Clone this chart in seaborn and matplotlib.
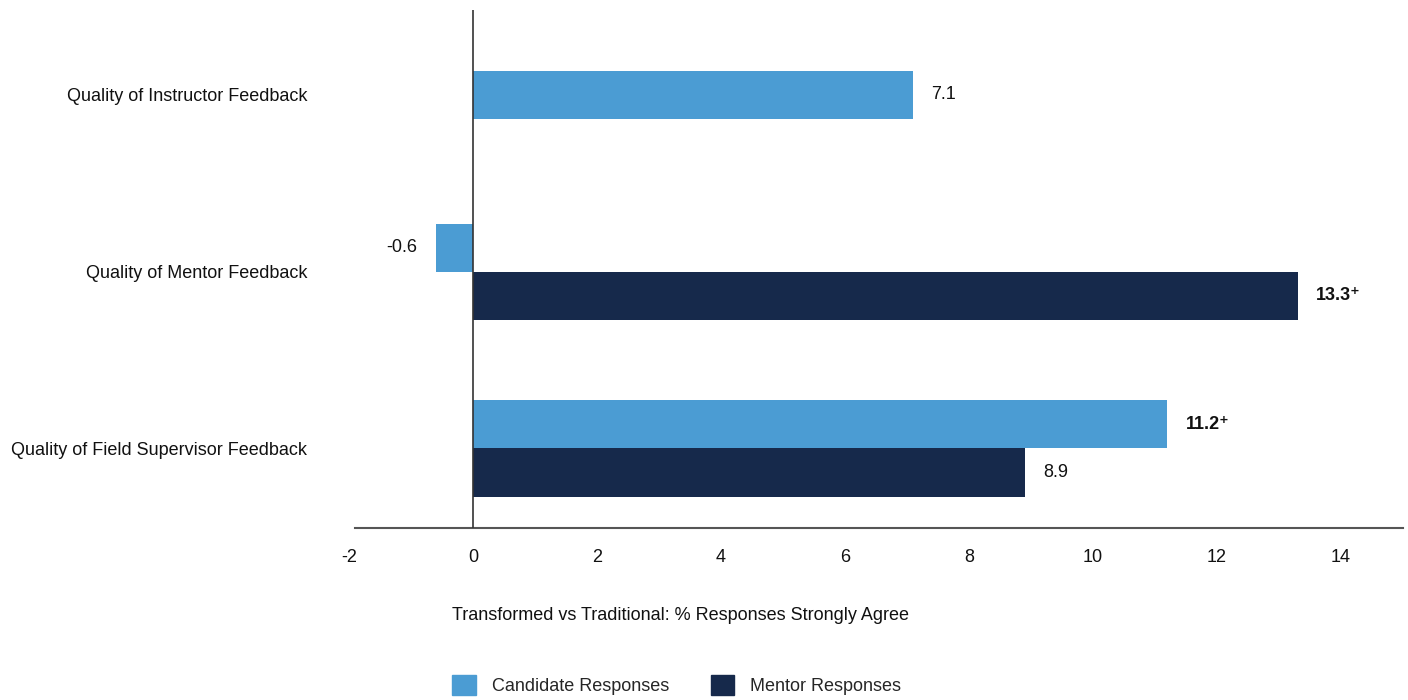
import matplotlib
matplotlib.use("Agg")
import matplotlib.pyplot as plt
import matplotlib.patches as mpatches
import seaborn as sns
import pandas as pd

# data
categories = ["Quality of Instructor Feedback",
              "Quality of Mentor Feedback",
              "Quality of Field Supervisor Feedback"]
candidate = [7.1, -0.6, 11.2]
mentor = [None, 13.3, 8.9]
bold_labels = {("Candidate Responses", 11.2), ("Mentor Responses", 13.3)}
series = ["Candidate Responses", "Mentor Responses"]
colors = {"Candidate Responses": "#4b9cd3", "Mentor Responses": "#16294b"}

sns.set_theme(style="white")
plt.rcParams['font.family'] = ['Liberation Sans', 'DejaVu Sans']

rows = []
for c, a, b in zip(categories, candidate, mentor):
    rows.append({"cat": c, "series": series[0], "value": a})
    if b is not None:
        rows.append({"cat": c, "series": series[1], "value": b})
df = pd.DataFrame(rows)

# categories with both series are dodged, single-series ones are centred
counts = df.groupby("cat")["series"].transform("count")
df_pair = df[counts == 2]
df_single = df[counts == 1]

fig = plt.figure(figsize=(14.08, 7.0), dpi=100)
ax = fig.add_axes([349 / 1408, 1 - 528 / 700, (1403 - 349) / 1408, 518 / 700])

sns.barplot(data=df_pair, x="value", y="cat", hue="series", order=categories,
            hue_order=series, palette=colors, orient="h", width=0.544,
            dodge=True, saturation=1, legend=False, linewidth=0, ax=ax)
sns.barplot(data=df_single, x="value", y="cat", order=categories,
            color=colors[series[0]], orient="h", width=0.272,
            saturation=1, linewidth=0, ax=ax)

# value labels
for p in ax.patches:
    w = p.get_width()
    if pd.isna(w) or p.get_height() == 0:
        continue
    yc = p.get_y() + p.get_height() / 2
    is_mentor = p.get_facecolor()[2] < 0.5
    name = series[1] if is_mentor else series[0]
    val = round(w, 1)
    bold = (name, val) in bold_labels
    txt = f"{val:g}" + ("\u207a" if bold else "")
    if w >= 0:
        ax.annotate(txt, (w, yc), xytext=(13, 0), textcoords="offset points",
                    ha="left", va="center", fontsize=13, color="#111111",
                    fontweight="bold" if bold else "normal")
    else:
        ax.annotate(txt, (w, yc), xytext=(-13, 0), textcoords="offset points",
                    ha="right", va="center", fontsize=13, color="#111111")

ax.set_xlim(-2, 15)
ax.set_ylim(2.45, -0.48)
ax.set_xticks(range(-2, 16, 2))
ax.set_xticklabels([str(t) for t in range(-2, 16, 2)])
ax.axvline(0, color="#333333", lw=1.2, zorder=3)

for s in ["top", "right", "left"]:
    ax.spines[s].set_visible(False)
ax.spines["bottom"].set_color("#555555")
ax.spines["bottom"].set_linewidth(1.5)
ax.spines["bottom"].set_bounds(-1.9, 15)
ax.tick_params(axis="x", length=0, pad=15, labelsize=13, colors="#111111")
ax.tick_params(axis="y", length=0, pad=30, labelsize=13, colors="#111111")
ax.set_xlabel("")
ax.set_ylabel("")
ax.grid(False)

fig.text(681 / 1408, 1 - 615 / 700,
         "Transformed vs Traditional: % Responses Strongly Agree",
         ha="center", va="center", fontsize=13, color="#111111")

handles = [mpatches.Patch(color=colors[s], label=s) for s in series]
fig.legend(handles=handles, loc="center left", ncol=2, frameon=False,
           bbox_to_anchor=(436 / 1408, 1 - 685 / 700), fontsize=13,
           handlelength=1.3, handleheight=1.3, columnspacing=2.3,
           handletextpad=0.9)

fig.savefig("out.png", dpi=100)
